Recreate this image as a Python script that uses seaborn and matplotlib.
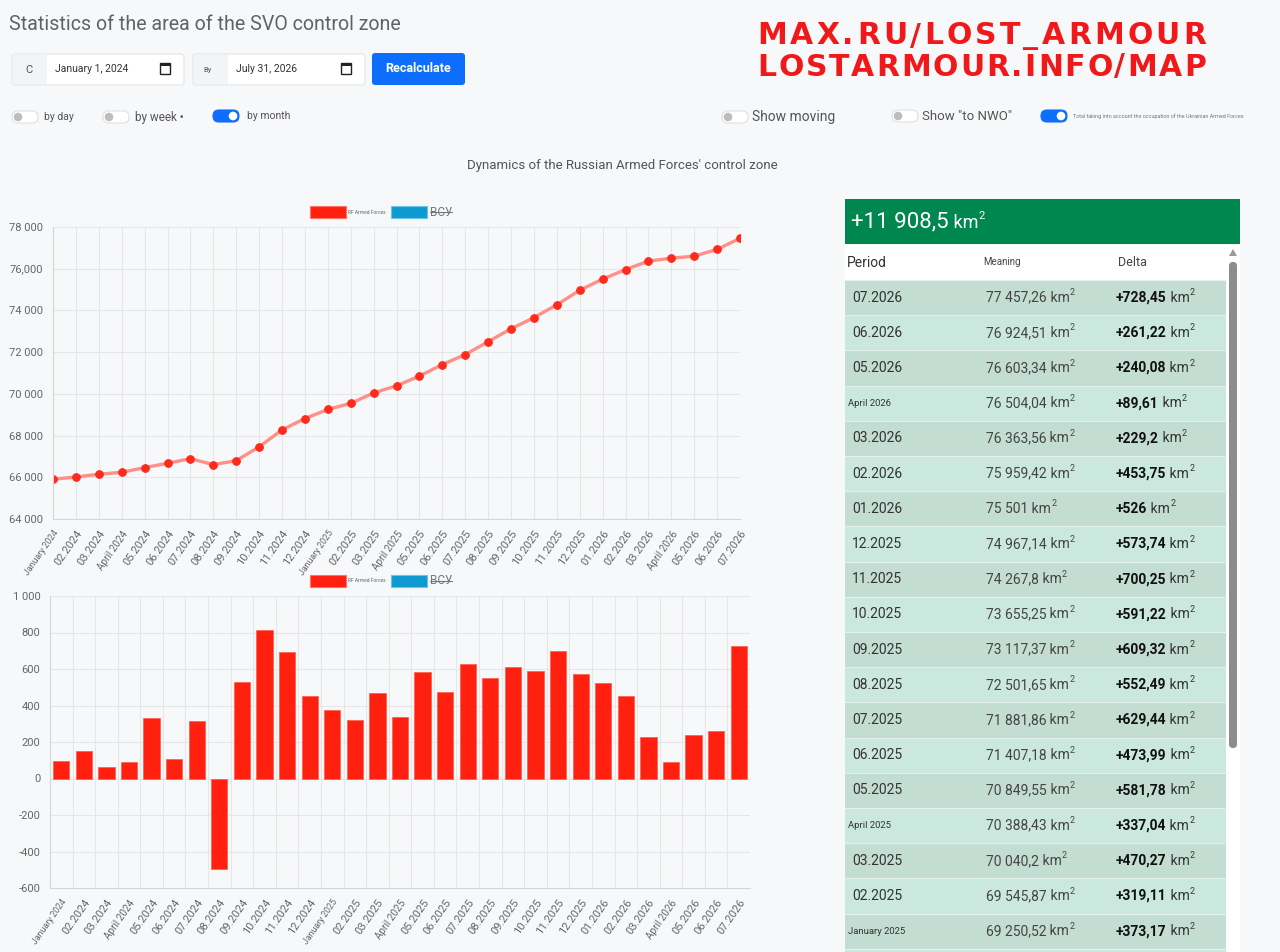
import numpy as np
import matplotlib
matplotlib.use("Agg")
import matplotlib.pyplot as plt
from matplotlib.patches import Rectangle, FancyBboxPatch, Circle, Polygon
import seaborn as sns

# ---------------- data ----------------
months = ["January 2024", "02.2024", "03.2024", "April 2024", "05.2024", "06.2024",
          "07.2024", "08.2024", "09.2024", "10.2024", "11.2024", "12.2024",
          "January 2025", "02.2025", "03.2025", "April 2025", "05.2025", "06.2025",
          "07.2025", "08.2025", "09.2025", "10.2025", "11.2025", "12.2025",
          "01.2026", "02.2026", "03.2026", "April 2026", "05.2026", "06.2026", "07.2026"]

area_km2 = [65904, 66014, 66144, 66240, 66462, 66673, 66894, 66606, 66798, 67457,
            68274, 68817,
            69250.52, 69545.87, 70040.2, 70388.43, 70849.55, 71407.18, 71881.86,
            72501.65, 73117.37, 73655.25, 74267.8, 74967.14,
            75501, 75959.42, 76363.56, 76504.04, 76603.34, 76924.51, 77457.26]

delta_km2 = [96, 151, 62, 91, 330, 109, 314, -498, 529, 816, 692, 451,
             373.17, 319.11, 470.27, 337.04, 581.78, 473.99, 629.44, 552.49,
             609.32, 591.22, 700.25, 573.74,
             526, 453.75, 229.2, 89.61, 240.08, 261.22, 728.45]

total_delta = 11908.5

line_yticks = [64000, 66000, 68000, 70000, 72000, 74000, 76000, 78000]
line_ytick_labels = ["64 000", "66 000", "68 000", "70 000", "72 000", "74 000", "76,000", "78 000"]
bar_yticks = [-600, -400, -200, 0, 200, 400, 600, 800, 1000]
bar_ytick_labels = ["-600", "-400", "-200", "0", "200", "400", "600", "800", "1 000"]

legend_labels = ["RF Armed Forces", "ВСУ"]
logo_lines = ["MAX.RU/LOST_ARMOUR", "LOSTARMOUR.INFO/MAP"]

# ---------------- style ----------------
BG = "#f7f8fa"
RED = "#ff2010"
BLUE = "#0e9ad0"
sns.set_style("white")
plt.rcParams["font.family"] = ["Roboto", "DejaVu Sans"]

fig = plt.figure(figsize=(12.8, 9.52), dpi=100, facecolor=BG)
bg = fig.add_axes([0, 0, 1, 1], zorder=0)
bg.set_xlim(0, 1280)
bg.set_ylim(952, 0)
bg.axis("off")
renderer = fig.canvas.get_renderer()


def T(x, y, s, **kw):
    kw.setdefault("va", "center")
    kw.setdefault("ha", "left")
    return bg.text(x, y, s, **kw)


def width(t):
    return t.get_window_extent(renderer).width


def fit_text(x, y, s, target_w, **kw):
    t = T(x, y, s, **kw)
    w = width(t)
    t.set_fontsize(t.get_fontsize() * target_w / w)
    return t


def spaced_text(x, y, s, target_w, **kw):
    chars = []
    widths = []
    for ch in s:
        t = T(x, y, ch, **kw)
        chars.append(t)
        widths.append(width(t))
    extra = (target_w - sum(widths)) / (len(s) - 1)
    cx = x
    for t, w in zip(chars, widths):
        t.set_x(cx)
        cx += w + extra


def rect(x0, y0, x1, y1, fc, ec="none", lw=0, z=1):
    bg.add_patch(Rectangle((x0, y0), x1 - x0, y1 - y0, facecolor=fc,
                           edgecolor=ec, linewidth=lw, zorder=z))


def rrect(x0, y0, x1, y1, r, fc, ec="none", lw=0, z=1):
    bg.add_patch(FancyBboxPatch((x0 + r, y0 + r), x1 - x0 - 2 * r, y1 - y0 - 2 * r,
                                boxstyle=f"round,pad={r}", facecolor=fc,
                                edgecolor=ec, linewidth=lw, zorder=z))


def rich(x, y, parts):
    for s, kw, dy in parts:
        t = T(x, y + dy, s, **kw)
        x += width(t)


def fmt(v):
    s = f"{v:,.2f}".rstrip("0").rstrip(".")
    return s.replace(",", " ").replace(".", ",")


# ---------------- header ----------------
fit_text(9, 24, "Statistics of the area of the SVO control zone", 392,
         fontsize=16, color="#5f6368")

spaced_text(757, 36, logo_lines[0], 449, fontsize=21.5, fontweight="heavy",
            family="DejaVu Sans", color="#f01818")
spaced_text(757, 67, logo_lines[1], 449, fontsize=21.5, fontweight="heavy",
            family="DejaVu Sans", color="#f01818")


def calendar(x, y):
    rect(x, y, x + 10, y + 11, "none", ec="#222", lw=1.0, z=3)
    rect(x, y, x + 10, y + 3, "#222", z=3)


# date boxes
rrect(12, 54, 184, 85, 3, "white", ec="#e3e5e8", lw=0.8)
rect(13, 55, 47, 84, "#f3f4f6", z=2)
T(29, 70, "C", ha="center", fontsize=8, color="#555", zorder=3)
T(55, 69, "January 1, 2024", fontsize=7.5, color="#333", zorder=3)
calendar(160, 63)

rrect(193, 54, 365, 85, 3, "white", ec="#e3e5e8", lw=0.8)
rect(194, 55, 228, 84, "#f3f4f6", z=2)
T(208, 70, "By", ha="center", fontsize=5.5, color="#555", zorder=3)
T(236, 69, "July 31, 2026", fontsize=7.5, color="#333", zorder=3)
calendar(341, 63)

rrect(372, 53, 465, 85, 3, "#0d6efd")
T(418.5, 69, "Recalculate", ha="center", color="white", fontweight="bold",
  fontsize=9, zorder=3)


def toggle(x0, y, on):
    rrect(x0, y - 6, x0 + 26, y + 6, 5.9, "#0d6efd" if on else "white",
          ec="#0d6efd" if on else "#e0e0e0", lw=0.8)
    bg.add_patch(Circle((x0 + 20 if on else x0 + 6, y), 4.3,
                        facecolor="white" if on else "#bdbdbd", edgecolor="none", zorder=3))


toggle(12, 117, False)
T(44, 117, "by day", fontsize=7.5, color="#555")
toggle(103, 117, False)
T(135, 117, "by week •", fontsize=8.5, color="#555")
toggle(213, 116, True)
T(247, 116, "by month", fontsize=7.5, color="#555")

toggle(722, 117, False)
T(752, 117, "Show moving", fontsize=10, color="#555")
toggle(892, 116, False)
T(922, 116, 'Show "to NWO"', fontsize=9.5, color="#555")
toggle(1041, 116, True)
fit_text(1073, 116, "Total taking into account the occupation of the Ukrainian Armed Forces",
         167, fontsize=4, color="#777")

fit_text(467, 165, "Dynamics of the Russian Armed Forces' control zone", 311,
         fontsize=11.5, color="#555")


def legend(y):
    rect(310, y - 6, 346, y + 6, RED, ec="#ff7468", lw=0.8)
    T(348, y, legend_labels[0], fontsize=3.5, color="#666")
    rect(391, y - 6, 427, y + 6, BLUE, ec="#6cc6ea", lw=0.8)
    t = T(430, y, legend_labels[1], fontsize=8.5, color="#777")
    w = width(t)
    bg.plot([430, 430 + w], [y, y], color="#777", lw=0.8)


legend(212)
legend(581)


# ---------------- charts ----------------
def style_axes(ax):
    ax.set_facecolor("none")
    for s in ["top", "right"]:
        ax.spines[s].set_visible(False)
    for s in ["left", "bottom"]:
        ax.spines[s].set_color("#d5d5d5")
        ax.spines[s].set_linewidth(0.8)
    ax.tick_params(axis="both", which="both", length=5, color="#e2e2e2",
                   labelcolor="#666", pad=2)
    ax.set_xlabel("")
    ax.set_ylabel("")


def style_xlabels(ax):
    for lbl in ax.get_xticklabels():
        txt = lbl.get_text()
        if txt.startswith("January"):
            lbl.set_fontsize(6.3)
        elif txt.startswith("April"):
            lbl.set_fontsize(7.2)
        else:
            lbl.set_fontsize(8)


x_idx = np.arange(len(months))

ax1 = fig.add_axes([53 / 1280, 1 - 519 / 952, 687 / 1280, 292 / 952], zorder=1)
sns.lineplot(x=x_idx, y=area_km2, ax=ax1, color="#ff9088", linewidth=2.4,
             marker="o", markersize=5.5, markerfacecolor="#ff2a1a",
             markeredgecolor="#ff2a1a")
ax1.set_xlim(0, len(months) - 1)
ax1.set_ylim(64000, 78000)
ax1.set_yticks(line_yticks)
ax1.set_yticklabels(line_ytick_labels, fontsize=8)
ax1.set_xticks(x_idx)
ax1.set_xticklabels(months, rotation=55, ha="right", rotation_mode="anchor")
style_xlabels(ax1)
ax1.grid(True, color="#e6e6e6", linewidth=0.8)
ax1.set_axisbelow(True)
style_axes(ax1)

ax2 = fig.add_axes([50 / 1280, 1 - 888 / 952, 700 / 1280, 292 / 952], zorder=1)
sns.barplot(x=months, y=delta_km2, ax=ax2, color=RED, saturation=1, width=0.72,
            edgecolor="#ff5a4a", linewidth=0.5)
ax2.set_xlim(-0.5, len(months) - 0.5)
ax2.set_ylim(-600, 1000)
ax2.set_yticks(bar_yticks)
ax2.set_yticklabels(bar_ytick_labels, fontsize=8)
ax2.set_xticks(x_idx)
ax2.set_xticklabels(months, rotation=55, ha="right", rotation_mode="anchor")
style_xlabels(ax2)
ax2.set_xticks(np.arange(-0.5, len(months), 1), minor=True)
ax2.grid(False)
ax2.grid(True, which="minor", axis="x", color="#e6e6e6", linewidth=0.8)
ax2.grid(True, which="major", axis="y", color="#e6e6e6", linewidth=0.8)
ax2.set_axisbelow(True)
style_axes(ax2)

# ---------------- table panel ----------------
rect(845, 199, 1240, 244, "#00874f")
rich(851, 222, [("+" + fmt(total_delta), dict(fontsize=16, color="white"), 0),
                (" km", dict(fontsize=13, color="white"), 1),
                ("2", dict(fontsize=8, color="white"), -6)])

rect(845, 245, 1226, 280, "white")
rect(1226, 245, 1240, 952, "white")
T(847, 263, "Period", fontsize=10, color="#333")
T(983, 262, "Meaning", fontsize=7, color="#444")
T(1118, 262, "Delta", fontsize=9, color="#444")
rrect(1229, 262, 1237, 748, 3.9, "#8c8c8c")
bg.add_patch(Polygon([(1229, 256), (1237, 256), (1233, 249)], closed=True,
                     facecolor="#9a9a9a", edgecolor="none"))

row_h = 35.2
for i in range(20):
    y0 = 280 + row_h * i
    rect(845, y0, 1226, y0 + row_h, "#c3ddd3" if i % 2 == 0 else "#cbe8de")
    bg.plot([845, 1226], [y0, y0], color="#e3f1ec", lw=0.8, zorder=2)

for i in range(19):
    idx = len(months) - 1 - i
    yc = 280 + row_h * i + row_h / 2
    lab = months[idx]
    small = lab.startswith("January") or lab.startswith("April")
    T(852 if not small else 848, yc, lab, fontsize=6.8 if small else 10,
      color="#333", zorder=3)
    rich(986, yc, [(fmt(area_km2[idx]), dict(fontsize=10, color="#444", zorder=3), 0),
                   (" km", dict(fontsize=10, color="#444", zorder=3), 0),
                   ("2", dict(fontsize=6.5, color="#444", zorder=3), -5)])
    sign = "+" if delta_km2[idx] >= 0 else ""
    rich(1116, yc, [(sign + fmt(delta_km2[idx]),
                     dict(fontsize=10, color="#111", fontweight="bold", zorder=3), 0),
                    (" km", dict(fontsize=10, color="#333", zorder=3), 0),
                    ("2", dict(fontsize=6.5, color="#333", zorder=3), -5)])

fig.savefig("out.png", dpi=100, facecolor=BG)
